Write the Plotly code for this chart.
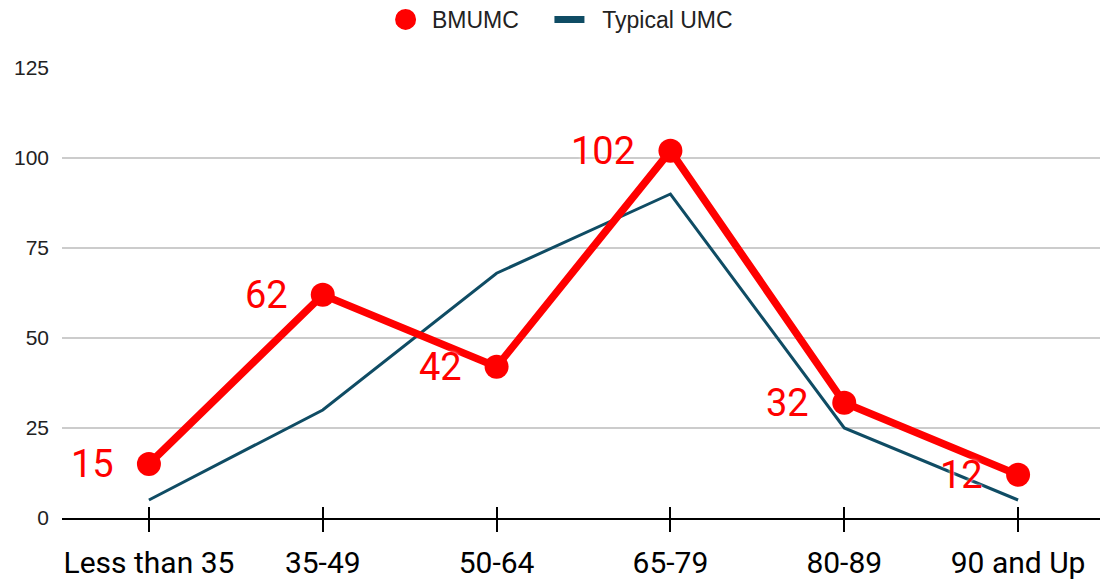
import plotly.graph_objects as go

categories = ["Less than 35", "35-49", "50-64", "65-79", "80-89", "90 and Up"]
bmumc = [15, 62, 42, 102, 32, 12]
typical_umc = [5, 30, 68, 90, 25, 5]
y_ticks = [0, 25, 50, 75, 100, 125]

RED = "#ff0000"
BLUE = "#0f4c64"
NBSP = "\u00a0"

fig = go.Figure()

fig.add_trace(go.Scatter(
    x=categories, y=typical_umc, mode="lines",
    line=dict(color=BLUE, width=3), showlegend=False, hoverinfo="skip"))

fig.add_trace(go.Scatter(
    x=categories, y=bmumc, mode="lines+markers",
    line=dict(color=RED, width=7.5),
    marker=dict(color=RED, size=24),
    showlegend=False, hoverinfo="skip"))

# legend entries
fig.add_trace(go.Scatter(x=[None], y=[None], mode="markers",
                         name=NBSP + "BMUMC" + NBSP * 4,
                         marker=dict(color=RED, size=16, line=dict(color=RED, width=5)),
                         legendrank=1))
fig.add_trace(go.Scatter(x=[None], y=[None], mode="lines",
                         name=NBSP * 2 + "Typical UMC",
                         line=dict(color=BLUE, width=7), legendrank=2))

# overlay axis for the inside half of the crossing ticks
fig.add_trace(go.Scatter(x=categories, y=bmumc, xaxis="x2", mode="none",
                         showlegend=False, hoverinfo="skip"))

for c, v in zip(categories, bmumc):
    fig.add_annotation(x=c, y=v, text=str(v), showarrow=False,
                       xanchor="right", yanchor="middle", xshift=-33, yshift=0,
                       font=dict(family="Roboto", size=38, color=RED,
                                 shadow="0px 0px 3px white"))

fig.update_layout(
    width=1100, height=573,
    margin=dict(l=54, r=3, t=60, b=63),
    paper_bgcolor="white", plot_bgcolor="white",
    font=dict(family="Liberation Sans, Arial", color="#222"),
    legend=dict(orientation="h", x=0.479, xanchor="center", y=0.98, yref="container",
                yanchor="middle", font=dict(size=23, family="Liberation Sans, Arial", color="#222"),
                itemwidth=30, traceorder="normal"),
    xaxis=dict(type="category", categoryarray=categories, range=[-0.5, 5.5],
               showgrid=False, showline=True, linecolor="#000", linewidth=2,
               ticks="outside", ticklen=12, tickwidth=2, tickcolor="#000",
               tickfont=dict(family="Roboto", size=30, color="#000"),
               ticklabelstandoff=5, zeroline=False, automargin=False),
    xaxis2=dict(type="category", categoryarray=categories, range=[-0.5, 5.5],
                overlaying="x", side="bottom", anchor="y", showgrid=False,
                showline=False, ticks="inside", ticklen=11, tickwidth=2,
                tickcolor="#000", showticklabels=False, zeroline=False, automargin=False),
    yaxis=dict(range=[0, 125], tickvals=y_ticks, showgrid=True, gridcolor="#cccccc",
               gridwidth=1.5, zeroline=False, showline=False, automargin=False,
               tickfont=dict(size=21, family="Liberation Sans, Arial", color="#222"),
               ticklabelstandoff=12),
)

fig.write_html("out.html")
